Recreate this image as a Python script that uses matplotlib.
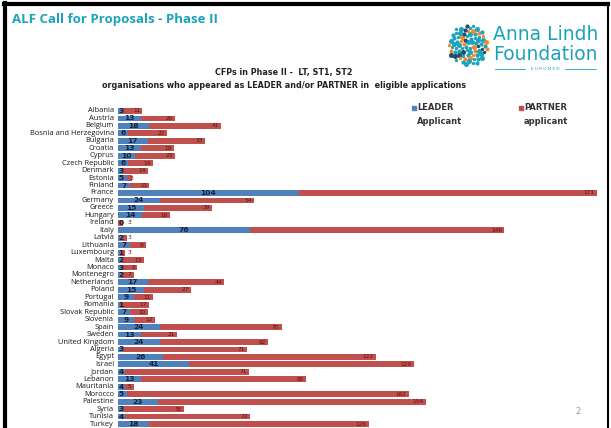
import numpy as np
import matplotlib
matplotlib.use("Agg")
import matplotlib.pyplot as plt
from matplotlib.lines import Line2D
from matplotlib.patches import Rectangle

countries = ["Albania", "Austria", "Belgium", "Bosnia and Herzegovina", "Bulgaria",
             "Croatia", "Cyprus", "Czech Republic", "Denmark", "Estonia", "Finland",
             "France", "Germany", "Greece", "Hungary", "Ireland", "Italy", "Latvia",
             "Lithuania", "Luxembourg", "Malta", "Monaco", "Montenegro", "Netherlands",
             "Poland", "Portugal", "Romania", "Slovak Republic", "Slovenia", "Spain",
             "Sweden", "United Kingdom", "Algeria", "Egypt", "Israel", "Jordan",
             "Lebanon", "Mauritania", "Morocco", "Palestine", "Syria", "Tunisia", "Turkey"]
leader = [3, 13, 18, 6, 17, 13, 10, 6, 3, 5, 7, 104, 24, 15, 14, 0, 76, 2, 7, 1,
          2, 3, 2, 17, 15, 9, 1, 7, 9, 24, 13, 24, 3, 26, 41, 4, 13, 4, 5, 23, 3, 4, 18]
partner = [11, 20, 41, 22, 33, 19, 23, 14, 14, 3, 11, 171, 54, 39, 16, 3, 146, 3, 9, 3,
           13, 8, 7, 44, 27, 11, 17, 10, 12, 70, 21, 62, 71, 122, 129, 71, 95, 5, 162, 154,
           35, 72, 126]

BLUE = "#4f81bd"
RED = "#c0504d"
TEAL = "#1ba3bb"

W, H = 611, 428
fig = plt.figure(figsize=(W / 100, H / 100), dpi=100)
fig.patch.set_facecolor("white")


def fx(px):
    return px / W


def fy(py):
    return 1 - py / H


# slide frame
fig.add_artist(Line2D([fx(5), fx(5)], [fy(3), fy(428)], color="black", lw=3))
fig.add_artist(Line2D([fx(4), fx(608)], [fy(4), fy(4)], color="black", lw=3))
fig.add_artist(Line2D([fx(608), fx(608)], [fy(3), fy(428)], color="black", lw=1.5))

fig.text(fx(12), fy(20), "ALF Call for Proposals - Phase II", color=TEAL,
         fontsize=9.5, fontweight="bold", family="Open Sans", va="center")

# logo: dotted circle + name
ga = np.pi * (3 - np.sqrt(5))
k = np.arange(1, 80)
r = np.sqrt(k / 79) * 20
ang = k * ga
dot_colors = [TEAL if (i % 4) else "#f08a2c" for i in k]
dot_colors = [("#1d4e6e" if i % 7 == 0 else c) for i, c in zip(k, dot_colors)]
for xx, yy, c, s in zip(468 + r * np.cos(ang), 45 + r * np.sin(ang), dot_colors,
                        1.4 + (k % 3) * 0.6):
    fig.add_artist(Line2D([fx(xx)], [fy(yy)], marker="o", ms=s, color=c, lw=0))
fig.text(fx(493), fy(35), "Anna Lindh", color=TEAL, fontsize=13.5,
         family="Liberation Sans Narrow", va="center")
fig.text(fx(493), fy(55), "Foundation", color=TEAL, fontsize=13.5,
         family="Liberation Sans Narrow", va="center")
fig.text(fx(545), fy(69), "E U R O M E D", color=TEAL, fontsize=3, ha="center", va="center")
fig.add_artist(Line2D([fx(495), fx(525)], [fy(69), fy(69)], color=TEAL, lw=0.6))
fig.add_artist(Line2D([fx(565), fx(596)], [fy(69), fy(69)], color=TEAL, lw=0.6))

# chart titles
fig.text(fx(284), fy(73), "CFPs in Phase II -  LT, ST1, ST2", fontsize=5.8,
         fontweight="bold", color="#222222", ha="center", va="center")
fig.text(fx(284), fy(86), "organisations who appeared as LEADER and/or PARTNER in  eligible applications",
         fontsize=5.8, fontweight="bold", color="#222222", ha="center", va="center")

# legend
for x0, c, l1, l2 in [(412, BLUE, "LEADER", "Applicant"), (519, RED, "PARTNER", "applicant")]:
    fig.add_artist(Rectangle((fx(x0), fy(110)), fx(4), 4 / H, color=c))
    fig.text(fx(x0 + 5), fy(108), l1, fontsize=6, fontweight="bold", color="#333333", va="center")
    fig.text(fx(x0 + 5), fy(121), l2, fontsize=6, fontweight="bold", color="#333333", va="center")

fig.text(fx(578), fy(412), "2", fontsize=6, color="#999999", ha="center", va="center")

# bar chart
n = len(countries)
step = (424 - 111) / (n - 1)
top_px = 111 - step / 2
bot_px = 424 + step / 2
ax = fig.add_axes([fx(118), fy(bot_px), fx(600) - fx(118), (bot_px - top_px) / H])
y = np.arange(n)
ax.barh(y, leader, height=0.78, color=BLUE)
ax.barh(y, partner, left=leader, height=0.78, color=RED)
ax.set_xlim(0, 277)
ax.set_ylim(n - 0.5, -0.5)
ax.axis("off")

for i, (l, p) in enumerate(zip(leader, partner)):
    if l < 6:
        ax.text(0.3, i, str(l), fontsize=5.4, fontweight="bold", color="#14213d",
                ha="left", va="center")
    else:
        ax.text(l / 2, i, str(l), fontsize=5.4, fontweight="bold", color="#14213d",
                ha="center", va="center")
    ax.text(max(l + p - 1.2, 5.5), i, str(p), fontsize=4.2, color="#5a1414",
            ha="right" if l + p > 8 else "left", va="center")
    fig.text(fx(114), fy(111 + i * step), countries[i], fontsize=5.4, color="#1a1a1a",
             ha="right", va="center", family="Open Sans")

fig.savefig("out.png", dpi=100)
